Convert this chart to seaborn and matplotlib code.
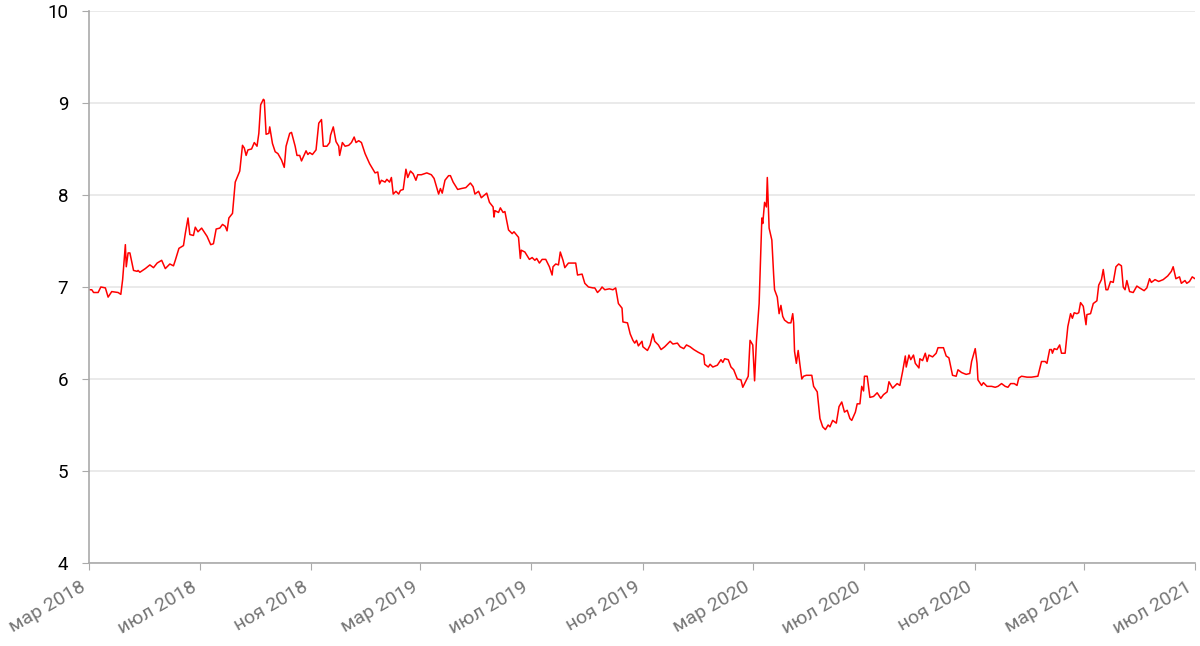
import matplotlib
matplotlib.use('Agg')
import matplotlib.pyplot as plt
import matplotlib.transforms as mtransforms
import seaborn as sns
import pandas as pd

# values
dates = [
    '2018-03-01', '2018-03-04', '2018-03-06', '2018-03-11', '2018-03-14', '2018-03-19', '2018-03-22', '2018-03-26',
    '2018-04-02', '2018-04-05', '2018-04-07', '2018-04-10', '2018-04-11', '2018-04-13', '2018-04-15', '2018-04-19',
    '2018-04-23', '2018-04-24', '2018-04-26', '2018-05-02', '2018-05-07', '2018-05-11', '2018-05-15', '2018-05-20',
    '2018-05-24', '2018-05-29', '2018-06-02', '2018-06-04', '2018-06-08', '2018-06-13', '2018-06-15', '2018-06-18',
    '2018-06-20', '2018-06-24', '2018-06-26', '2018-06-29', '2018-07-03', '2018-07-09', '2018-07-13', '2018-07-16',
    '2018-07-19', '2018-07-23', '2018-07-26', '2018-07-29', '2018-07-31', '2018-08-02', '2018-08-06', '2018-08-09',
    '2018-08-14', '2018-08-17', '2018-08-19', '2018-08-21', '2018-08-23', '2018-08-27', '2018-08-30', '2018-09-02',
    '2018-09-04', '2018-09-06', '2018-09-09', '2018-09-10', '2018-09-12', '2018-09-15', '2018-09-16', '2018-09-19',
    '2018-09-22', '2018-09-25', '2018-09-29', '2018-10-02', '2018-10-04', '2018-10-08', '2018-10-10', '2018-10-14',
    '2018-10-16', '2018-10-19', '2018-10-21', '2018-10-26', '2018-10-28', '2018-10-30', '2018-11-02', '2018-11-06',
    '2018-11-09', '2018-11-12', '2018-11-14', '2018-11-18', '2018-11-21', '2018-11-22', '2018-11-25', '2018-11-28',
    '2018-12-01', '2018-12-02', '2018-12-05', '2018-12-08', '2018-12-12', '2018-12-15', '2018-12-18', '2018-12-20',
    '2018-12-23', '2018-12-26', '2018-12-30', '2019-01-04', '2019-01-10', '2019-01-13', '2019-01-15', '2019-01-17',
    '2019-01-21', '2019-01-23', '2019-01-26', '2019-01-28', '2019-01-30', '2019-02-02', '2019-02-05', '2019-02-07',
    '2019-02-10', '2019-02-13', '2019-02-15', '2019-02-18', '2019-02-21', '2019-02-24', '2019-02-26', '2019-03-02',
    '2019-03-08', '2019-03-13', '2019-03-16', '2019-03-19', '2019-03-21', '2019-03-23', '2019-03-25', '2019-03-28',
    '2019-04-01', '2019-04-03', '2019-04-06', '2019-04-11', '2019-04-15', '2019-04-20', '2019-04-25', '2019-04-28',
    '2019-04-30', '2019-05-04', '2019-05-07', '2019-05-13', '2019-05-16', '2019-05-20', '2019-05-21', '2019-05-22',
    '2019-05-26', '2019-05-28', '2019-05-31', '2019-06-02', '2019-06-06', '2019-06-10', '2019-06-12', '2019-06-17',
    '2019-06-19', '2019-06-20', '2019-06-24', '2019-06-29', '2019-07-02', '2019-07-05', '2019-07-07', '2019-07-10',
    '2019-07-13', '2019-07-17', '2019-07-21', '2019-07-24', '2019-07-25', '2019-07-28', '2019-07-31', '2019-08-02',
    '2019-08-05', '2019-08-07', '2019-08-11', '2019-08-16', '2019-08-19', '2019-08-21', '2019-08-26', '2019-08-29',
    '2019-09-02', '2019-09-07', '2019-09-09', '2019-09-12', '2019-09-15', '2019-09-17', '2019-09-20', '2019-09-25',
    '2019-09-29', '2019-10-02', '2019-10-05', '2019-10-09', '2019-10-10', '2019-10-15', '2019-10-18', '2019-10-21',
    '2019-10-23', '2019-10-25', '2019-10-27', '2019-10-31', '2019-11-01', '2019-11-06', '2019-11-09', '2019-11-12',
    '2019-11-14', '2019-11-18', '2019-11-21', '2019-11-25', '2019-11-27', '2019-12-01', '2019-12-04', '2019-12-09',
    '2019-12-12', '2019-12-16', '2019-12-19', '2019-12-23', '2019-12-27', '2020-01-01', '2020-01-07', '2020-01-08',
    '2020-01-12', '2020-01-14', '2020-01-17', '2020-01-22', '2020-01-26', '2020-01-28', '2020-01-30', '2020-02-03',
    '2020-02-06', '2020-02-09', '2020-02-13', '2020-02-17', '2020-02-19', '2020-02-22', '2020-02-25', '2020-02-27',
    '2020-03-01', '2020-03-03', '2020-03-05', '2020-03-08', '2020-03-11', '2020-03-12', '2020-03-14', '2020-03-16',
    '2020-03-17', '2020-03-18', '2020-03-19', '2020-03-22', '2020-03-24', '2020-03-25', '2020-03-28', '2020-03-30',
    '2020-04-01', '2020-04-03', '2020-04-05', '2020-04-09', '2020-04-12', '2020-04-14', '2020-04-15', '2020-04-16',
    '2020-04-18', '2020-04-20', '2020-04-22', '2020-04-24', '2020-04-26', '2020-04-29', '2020-05-05', '2020-05-07',
    '2020-05-11', '2020-05-14', '2020-05-17', '2020-05-20', '2020-05-23', '2020-05-25', '2020-05-28', '2020-06-01',
    '2020-06-04', '2020-06-07', '2020-06-10', '2020-06-13', '2020-06-16', '2020-06-18', '2020-06-22', '2020-06-24',
    '2020-06-27', '2020-06-29', '2020-07-01', '2020-07-02', '2020-07-05', '2020-07-08', '2020-07-12', '2020-07-16',
    '2020-07-20', '2020-07-23', '2020-07-27', '2020-07-29', '2020-08-02', '2020-08-07', '2020-08-10', '2020-08-13',
    '2020-08-16', '2020-08-17', '2020-08-20', '2020-08-22', '2020-08-25', '2020-08-27', '2020-08-31', '2020-09-01',
    '2020-09-04', '2020-09-07', '2020-09-09', '2020-09-11', '2020-09-15', '2020-09-19', '2020-09-21', '2020-09-27',
    '2020-09-30', '2020-10-03', '2020-10-07', '2020-10-11', '2020-10-13', '2020-10-17', '2020-10-22', '2020-10-26',
    '2020-10-28', '2020-11-01', '2020-11-03', '2020-11-04', '2020-11-08', '2020-11-10', '2020-11-14', '2020-11-19',
    '2020-11-23', '2020-11-26', '2020-11-30', '2020-12-04', '2020-12-07', '2020-12-10', '2020-12-14', '2020-12-17',
    '2020-12-19', '2020-12-22', '2020-12-28', '2021-01-02', '2021-01-09', '2021-01-13', '2021-01-17', '2021-01-19',
    '2021-01-20', '2021-01-22', '2021-01-24', '2021-01-25', '2021-01-27', '2021-01-30', '2021-02-02', '2021-02-04',
    '2021-02-08', '2021-02-11', '2021-02-14', '2021-02-16', '2021-02-18', '2021-02-21', '2021-02-23', '2021-02-25',
    '2021-02-28', '2021-03-03', '2021-03-04', '2021-03-08', '2021-03-11', '2021-03-15', '2021-03-17', '2021-03-20',
    '2021-03-22', '2021-03-25', '2021-03-27', '2021-03-30', '2021-04-02', '2021-04-05', '2021-04-08', '2021-04-11',
    '2021-04-13', '2021-04-15', '2021-04-17', '2021-04-20', '2021-04-24', '2021-04-28', '2021-05-01', '2021-05-06',
    '2021-05-09', '2021-05-12', '2021-05-14', '2021-05-18', '2021-05-22', '2021-05-27', '2021-06-01', '2021-06-05',
    '2021-06-07', '2021-06-10', '2021-06-14', '2021-06-16', '2021-06-20', '2021-06-22', '2021-06-25', '2021-06-28',
    '2021-07-01',
]
values = [
    6.97, 6.97, 6.94, 6.94, 7.00, 6.99, 6.89, 6.95,
    6.94, 6.92, 7.08, 7.46, 7.22, 7.37, 7.37, 7.18,
    7.17, 7.18, 7.16, 7.20, 7.24, 7.21, 7.26, 7.29,
    7.20, 7.25, 7.23, 7.29, 7.42, 7.45, 7.58, 7.75,
    7.57, 7.56, 7.65, 7.60, 7.64, 7.55, 7.46, 7.47,
    7.63, 7.64, 7.68, 7.66, 7.61, 7.75, 7.80, 8.14,
    8.26, 8.54, 8.51, 8.43, 8.49, 8.50, 8.57, 8.53,
    8.67, 8.98, 9.04, 9.03, 8.66, 8.67, 8.74, 8.56,
    8.47, 8.45, 8.38, 8.30, 8.53, 8.67, 8.68, 8.53,
    8.43, 8.43, 8.37, 8.48, 8.44, 8.46, 8.44, 8.49,
    8.78, 8.82, 8.53, 8.53, 8.57, 8.65, 8.74, 8.58,
    8.53, 8.43, 8.57, 8.53, 8.54, 8.57, 8.63, 8.57,
    8.59, 8.57, 8.45, 8.34, 8.24, 8.25, 8.12, 8.16,
    8.14, 8.17, 8.14, 8.19, 8.01, 8.04, 8.01, 8.05,
    8.06, 8.28, 8.19, 8.26, 8.23, 8.16, 8.22, 8.22,
    8.24, 8.22, 8.18, 8.08, 8.01, 8.07, 8.02, 8.16,
    8.21, 8.21, 8.14, 8.06, 8.07, 8.08, 8.13, 8.09,
    8.01, 8.04, 7.97, 8.02, 7.92, 7.87, 7.76, 7.83,
    7.81, 7.86, 7.81, 7.82, 7.62, 7.58, 7.60, 7.54,
    7.31, 7.40, 7.38, 7.30, 7.32, 7.29, 7.31, 7.26,
    7.30, 7.30, 7.22, 7.13, 7.22, 7.25, 7.24, 7.38,
    7.29, 7.21, 7.26, 7.26, 7.26, 7.13, 7.14, 7.04,
    7.00, 6.99, 6.99, 6.94, 6.97, 7.00, 6.97, 6.98,
    6.97, 6.99, 6.82, 6.77, 6.62, 6.61, 6.49, 6.42,
    6.39, 6.42, 6.36, 6.41, 6.35, 6.31, 6.37, 6.49,
    6.41, 6.37, 6.32, 6.35, 6.37, 6.41, 6.38, 6.39,
    6.35, 6.33, 6.37, 6.35, 6.32, 6.29, 6.26, 6.16,
    6.13, 6.16, 6.13, 6.15, 6.21, 6.18, 6.22, 6.21,
    6.13, 6.10, 6.00, 5.99, 5.91, 5.97, 6.03, 6.42,
    6.37, 5.98, 6.41, 6.82, 7.75, 7.69, 7.92, 7.87,
    8.19, 7.91, 7.64, 7.51, 7.13, 6.97, 6.89, 6.71,
    6.80, 6.68, 6.64, 6.61, 6.61, 6.71, 6.61, 6.30,
    6.17, 6.31, 6.15, 6.00, 6.03, 6.04, 6.04, 5.92,
    5.86, 5.57, 5.48, 5.45, 5.50, 5.48, 5.55, 5.52,
    5.70, 5.75, 5.64, 5.66, 5.57, 5.55, 5.64, 5.73,
    5.73, 5.92, 5.87, 6.03, 6.03, 5.80, 5.81, 5.85,
    5.79, 5.83, 5.86, 5.97, 5.90, 5.95, 5.93, 6.08,
    6.25, 6.13, 6.26, 6.21, 6.26, 6.17, 6.12, 6.22,
    6.20, 6.28, 6.19, 6.26, 6.24, 6.28, 6.34, 6.34,
    6.25, 6.23, 6.04, 6.03, 6.10, 6.07, 6.05, 6.06,
    6.19, 6.33, 6.17, 5.99, 5.93, 5.96, 5.92, 5.92,
    5.91, 5.92, 5.95, 5.92, 5.91, 5.95, 5.95, 5.93,
    6.01, 6.03, 6.02, 6.02, 6.03, 6.19, 6.19, 6.17,
    6.22, 6.32, 6.32, 6.28, 6.33, 6.32, 6.37, 6.28,
    6.28, 6.57, 6.71, 6.66, 6.72, 6.71, 6.72, 6.83,
    6.79, 6.59, 6.70, 6.71, 6.82, 6.85, 7.02, 7.08,
    7.19, 6.97, 6.97, 7.06, 7.05, 7.22, 7.25, 7.23,
    7.00, 6.97, 7.07, 6.95, 6.94, 7.01, 6.99, 6.96,
    6.99, 7.09, 7.05, 7.08, 7.06, 7.08, 7.12, 7.17,
    7.22, 7.09, 7.11, 7.04, 7.07, 7.04, 7.06, 7.11,
    7.09,
]

tick_dates = ['2018-03-01', '2018-07-01', '2018-11-01', '2019-03-01', '2019-07-01', '2019-11-01',
              '2020-03-01', '2020-07-01', '2020-11-01', '2021-03-01', '2021-07-01']
tick_labels = ['мар 2018', 'июл 2018', 'ноя 2018', 'мар 2019', 'июл 2019', 'ноя 2019',
               'мар 2020', 'июл 2020', 'ноя 2020', 'мар 2021', 'июл 2021']

df = pd.DataFrame({'date': pd.to_datetime(dates), 'value': values})

sns.set_style('white')
plt.rcParams['font.family'] = ['Roboto', 'DejaVu Sans']

fig = plt.figure(figsize=(12, 6.46), dpi=100)
ax = fig.add_axes([0.0742, 0.1285, 0.9216, 0.8545])

sns.lineplot(data=df, x='date', y='value', color='#ff0000', linewidth=1.1, ax=ax)

ax.set_xlim(pd.Timestamp(tick_dates[0]), pd.Timestamp(tick_dates[-1]))
ax.set_ylim(4, 10)
ax.set_yticks(range(4, 11))
ax.set_xticks(pd.to_datetime(tick_dates))
ax.set_xticklabels(tick_labels, rotation=30, ha='right', va='top',
                   rotation_mode='anchor', color='#757575', fontsize=14)
ax.set_xlabel('')
ax.set_ylabel('')

ax.yaxis.grid(True, color='#e6e6e6', linewidth=1.2)
ax.xaxis.grid(False)
ax.set_axisbelow(True)

for side in ['top', 'right']:
    ax.spines[side].set_visible(False)
for side in ['left', 'bottom']:
    ax.spines[side].set_color('#aaaaaa')
    ax.spines[side].set_linewidth(1.2)

ax.tick_params(axis='y', length=5, color='#aaaaaa', labelsize=13.5, labelcolor='black', pad=10, left=True)
ax.tick_params(axis='x', length=5, color='#aaaaaa', pad=6, bottom=True)

# shift the rotated month labels so they end just left of their tick
shift = mtransforms.ScaledTranslation(-0.09, 0, fig.dpi_scale_trans)
for lbl in ax.get_xticklabels():
    lbl.set_transform(lbl.get_transform() + shift)

fig.savefig('out.png', dpi=100)
